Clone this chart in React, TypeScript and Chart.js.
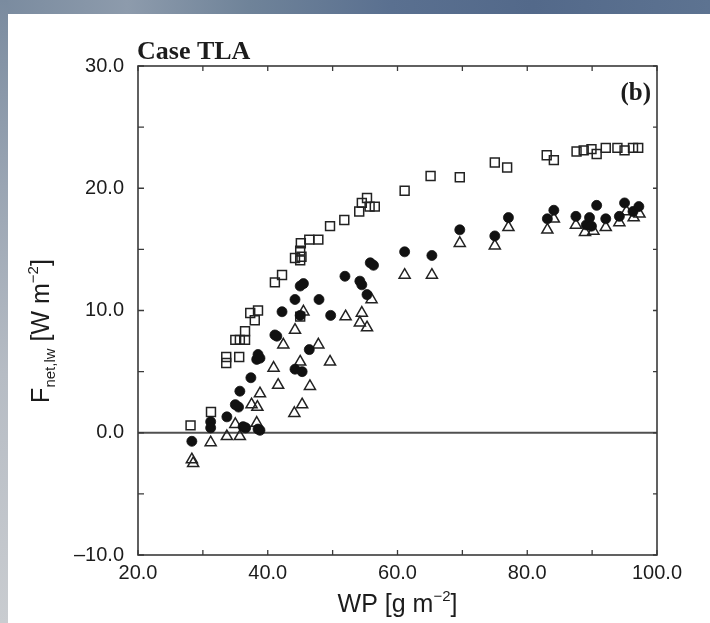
import React, { useEffect, useRef } from "react";
import { Chart, registerables } from "chart.js";

Chart.register(...registerables);

// ---- data ----
const xTickValues = [20, 40, 60, 80, 100];
const yTickValues = [-10, 0, 10, 20, 30];
const xMinorTicks = [20, 30, 40, 50, 60, 70, 80, 90, 100];
const yMinorTicks = [-10, -5, 0, 5, 10, 15, 20, 25, 30];

const squaresWP = [28.1, 31.25, 33.6, 33.6, 35.6, 35.0, 35.7, 36.5, 36.5, 37.3, 38.0, 38.5, 41.1, 42.2, 44.2, 45.0, 45.2, 45.0, 45.1, 46.4, 47.8, 49.6, 51.8, 54.1, 54.5, 55.3, 55.7, 56.5, 45.0, 61.1, 65.1, 69.6, 75.0, 76.9, 83.0, 84.1, 87.6, 88.7, 89.9, 90.7, 92.1, 93.9, 95.0, 96.3, 97.1];
const squaresF = [0.6, 1.7, 6.2, 5.7, 6.2, 7.6, 7.6, 7.6, 8.3, 9.8, 9.2, 10.0, 12.3, 12.9, 14.3, 14.1, 14.4, 14.9, 15.5, 15.8, 15.8, 16.9, 17.4, 18.1, 18.8, 19.2, 18.5, 18.5, 9.5, 19.8, 21.0, 20.9, 22.1, 21.7, 22.7, 22.3, 23.0, 23.1, 23.2, 22.8, 23.3, 23.3, 23.1, 23.3, 23.3];

const circlesWP = [28.3, 31.2, 31.2, 33.7, 35.0, 35.5, 35.7, 36.2, 36.6, 37.4, 38.5, 38.8, 38.3, 38.5, 38.8, 41.1, 41.4, 42.2, 44.2, 45.0, 47.9, 49.7, 45.0, 45.5, 51.9, 54.2, 54.5, 55.3, 55.8, 56.3, 46.4, 44.2, 45.3, 61.1, 65.3, 69.6, 75.0, 77.1, 83.1, 84.1, 87.5, 89.1, 89.6, 89.9, 90.7, 92.1, 94.2, 95.0, 96.3, 97.2];
const circlesF = [-0.7, 0.9, 0.4, 1.3, 2.3, 2.1, 3.4, 0.5, 0.4, 4.5, 0.3, 0.2, 6.0, 6.4, 6.1, 8.0, 7.9, 9.9, 10.9, 9.6, 10.9, 9.6, 12.0, 12.2, 12.8, 12.4, 12.1, 11.3, 13.9, 13.7, 6.8, 5.2, 5.0, 14.8, 14.5, 16.6, 16.1, 17.6, 17.5, 18.2, 17.7, 17.0, 17.6, 16.9, 18.6, 17.5, 17.7, 18.8, 18.1, 18.5];

const trianglesWP = [28.3, 28.5, 31.2, 33.7, 35.0, 35.7, 37.5, 38.4, 38.3, 38.8, 40.9, 41.6, 42.4, 44.2, 45.5, 45.0, 46.5, 45.3, 44.1, 47.8, 49.6, 52.0, 54.5, 54.2, 55.3, 56.0, 61.1, 65.3, 69.6, 75.0, 77.1, 83.1, 84.1, 87.5, 88.9, 90.2, 92.1, 94.2, 95.3, 96.4, 97.3];
const trianglesF = [-2.2, -2.5, -0.8, -0.3, 0.7, -0.3, 2.3, 2.1, 0.8, 3.2, 5.3, 3.9, 7.2, 8.4, 9.9, 5.8, 3.8, 2.3, 1.6, 7.2, 5.8, 9.5, 9.8, 9.0, 8.6, 10.9, 12.9, 12.9, 15.5, 15.3, 16.8, 16.6, 17.5, 17.0, 16.4, 16.5, 16.8, 17.2, 18.1, 17.6, 17.9];

const chartTitle = "Case TLA";
const panelLabel = "(b)";

const pts = (xs: number[], ys: number[]) => xs.map((x, i) => ({ x, y: ys[i] }));

const fmt = (v: number) => (v < 0 ? "\u2013" + Math.abs(v).toFixed(1) : v.toFixed(1));

const INK = "#1c1c1c";

const decor = {
  id: "decor",
  beforeDatasetsDraw(chart: any) {
    const { ctx, chartArea: a, scales } = chart;
    const x = scales.x;
    const y = scales.y;
    ctx.save();
    // zero line
    const y0 = y.getPixelForValue(0);
    ctx.strokeStyle = "#505050";
    ctx.lineWidth = 2;
    ctx.beginPath();
    ctx.moveTo(a.left, y0);
    ctx.lineTo(a.right, y0);
    ctx.stroke();
    // frame
    ctx.strokeStyle = "#3a3a3a";
    ctx.lineWidth = 1.6;
    ctx.strokeRect(a.left, a.top, a.right - a.left, a.bottom - a.top);
    // tick marks (inward)
    ctx.lineWidth = 1.3;
    ctx.beginPath();
    xMinorTicks.forEach((v) => {
      const px = x.getPixelForValue(v);
      ctx.moveTo(px, a.bottom);
      ctx.lineTo(px, a.bottom - 5);
      ctx.moveTo(px, a.top);
      ctx.lineTo(px, a.top + 5);
    });
    yMinorTicks.forEach((v) => {
      const py = y.getPixelForValue(v);
      ctx.moveTo(a.left, py);
      ctx.lineTo(a.left + 6, py);
      ctx.moveTo(a.right, py);
      ctx.lineTo(a.right - 4, py);
    });
    ctx.stroke();
    ctx.restore();
  },
  afterDraw(chart: any) {
    const { ctx, chartArea: a } = chart;
    ctx.save();
    ctx.fillStyle = INK;
    // chart title
    ctx.font = "bold 26px 'Liberation Serif', serif";
    ctx.textAlign = "left";
    ctx.textBaseline = "alphabetic";
    ctx.fillText(chartTitle, a.left - 1, a.top - 7);
    // panel label
    ctx.font = "bold 25px 'Liberation Serif', serif";
    ctx.textAlign = "right";
    ctx.fillText(panelLabel, a.right - 6, a.top + 34);

    const big = "25px 'Liberation Sans', Arial, sans-serif";
    const small = "15px 'Liberation Sans', Arial, sans-serif";
    const drawParts = (parts: any[], cx: number, baseY: number) => {
      ctx.textAlign = "left";
      let w = 0;
      parts.forEach((p) => {
        ctx.font = p.f;
        w += ctx.measureText(p.t).width;
      });
      let cur = cx - w / 2;
      parts.forEach((p) => {
        ctx.font = p.f;
        ctx.fillText(p.t, cur, baseY + p.dy);
        cur += ctx.measureText(p.t).width;
      });
    };

    // x axis title: WP [g m^-2]
    const partsX = [
      { t: "WP [g m", f: big, dy: 0 },
      { t: "\u22122", f: small, dy: -11 },
      { t: "]", f: big, dy: 0 },
    ];
    drawParts(partsX, (a.left + a.right) / 2, 612);

    // y axis title: F_net,lw [W m^-2]
    ctx.save();
    ctx.translate(49, 331);
    ctx.rotate(-Math.PI / 2);
    const partsY = [
      { t: "F", f: big, dy: 0 },
      { t: "net,lw", f: small, dy: 6 },
      { t: " [W m", f: big, dy: 0 },
      { t: "\u22122", f: small, dy: -11 },
      { t: "]", f: big, dy: 0 },
    ];
    drawParts(partsY, 0, 0);
    ctx.restore();
    ctx.restore();
  },
};

export default function App() {
  const ref = useRef<HTMLCanvasElement | null>(null);

  useEffect(() => {
    if (!ref.current) return;
    const tickFont = { family: "'Liberation Sans', Arial, sans-serif", size: 20 };
    const chart = new Chart(ref.current, {
      type: "scatter",
      data: {
        datasets: [
          {
            label: "filled circles",
            data: pts(circlesWP, circlesF),
            pointStyle: "circle",
            pointRadius: 5,
            backgroundColor: "#111",
            borderColor: "#111",
            borderWidth: 0.8,
          },
          {
            label: "open triangles",
            data: pts(trianglesWP, trianglesF),
            pointStyle: "triangle",
            pointRadius: 6.4,
            backgroundColor: "rgba(0,0,0,0)",
            borderColor: "#222",
            borderWidth: 1.5,
          },
          {
            label: "open squares",
            data: pts(squaresWP, squaresF),
            pointStyle: "rect",
            pointRadius: 6.3,
            backgroundColor: "rgba(0,0,0,0)",
            borderColor: "#222",
            borderWidth: 1.5,
          },
        ],
      },
      options: {
        animation: false,
        responsive: false,
        devicePixelRatio: 1,
        layout: { padding: { left: 0, top: 66, right: 53, bottom: 0 } },
        plugins: { legend: { display: false }, tooltip: { enabled: false }, title: { display: false } },
        scales: {
          x: {
            type: "linear",
            min: 20,
            max: 100,
            grid: { display: false, drawTicks: false },
            border: { display: false },
            afterBuildTicks: (s: any) => {
              s.ticks = xTickValues.map((v) => ({ value: v }));
            },
            afterFit: (s: any) => {
              s.height = 68;
            },
            ticks: {
              autoSkip: false,
              maxRotation: 0,
              padding: 6,
              color: INK,
              font: tickFont,
              callback: (v: any) => fmt(Number(v)),
            },
          },
          y: {
            type: "linear",
            min: -10,
            max: 30,
            grid: { display: false, drawTicks: false },
            border: { display: false },
            afterBuildTicks: (s: any) => {
              s.ticks = yTickValues.map((v) => ({ value: v }));
            },
            afterFit: (s: any) => {
              s.width = 138;
            },
            ticks: {
              autoSkip: false,
              padding: 14,
              color: INK,
              font: tickFont,
              callback: (v: any) => fmt(Number(v)),
            },
          },
        },
      },
      plugins: [decor],
    });
    return () => chart.destroy();
  }, []);

  return (
    <div style={{ position: "absolute", left: 0, top: 0, width: 710, height: 623, background: "#ffffff", overflow: "hidden" }}>
      <div
        style={{
          position: "absolute",
          left: 0,
          top: 0,
          width: 710,
          height: 14,
          background: "linear-gradient(90deg, #7a8b9f 0%, #8d9bac 18%, #6f8399 35%, #5a7090 55%, #53698a 75%, #5d7391 100%)",
        }}
      />
      <div
        style={{
          position: "absolute",
          left: 0,
          top: 0,
          width: 8,
          height: 623,
          background: "linear-gradient(180deg, #7a8b9f 0%, #9aa5b3 30%, #b6bcc4 60%, #c9ccd0 100%)",
        }}
      />
      <canvas ref={ref} width={710} height={623} style={{ position: "absolute", left: 0, top: 0 }} />
    </div>
  );
}
